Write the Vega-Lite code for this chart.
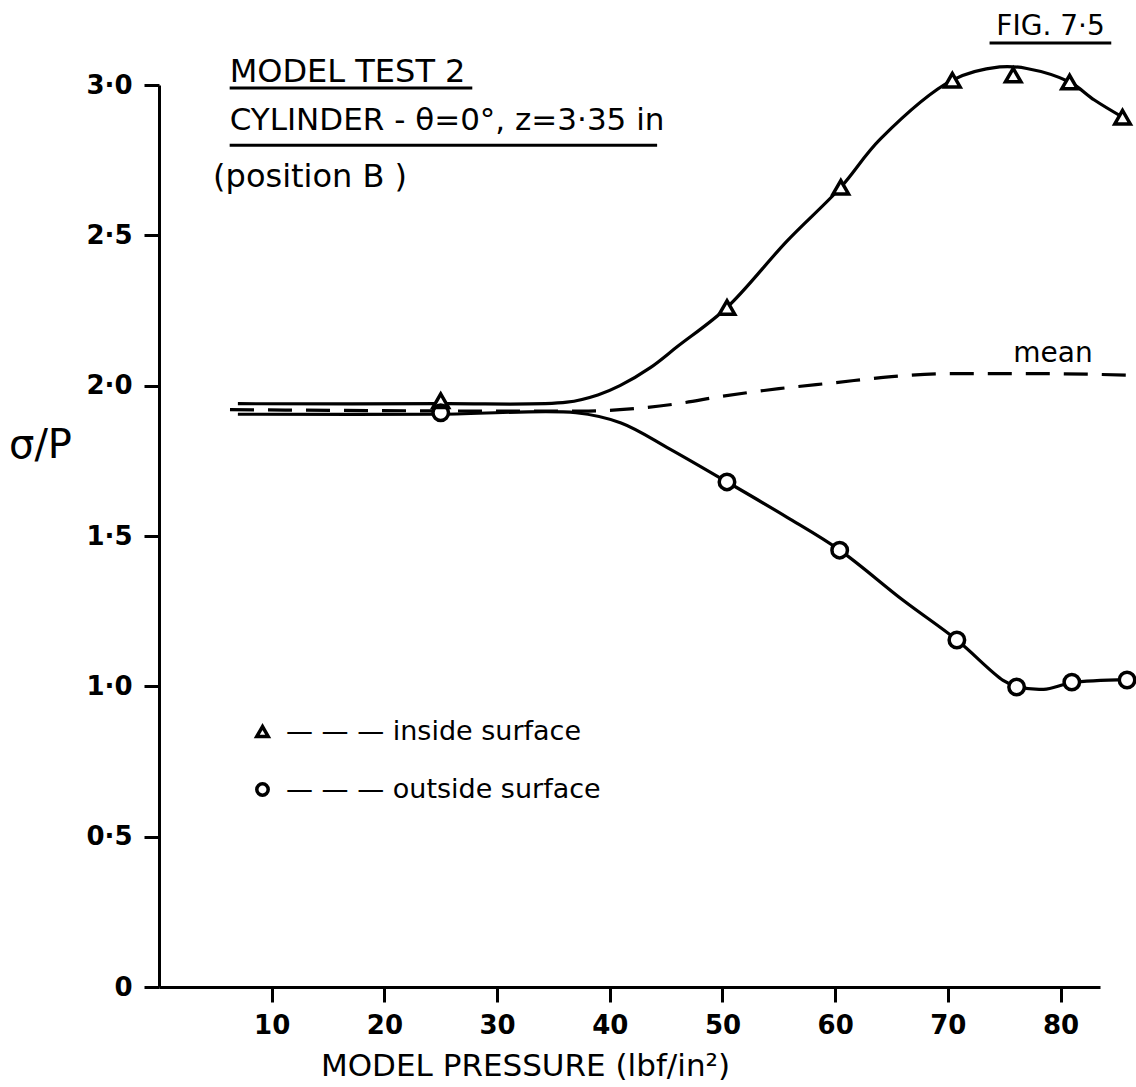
{
  "$schema": "https://vega.github.io/schema/vega-lite/v6.json",
  "autosize": "none",
  "width": 941,
  "height": 902,
  "padding": {"left": 159, "top": 85, "right": 36, "bottom": 100},
  "background": "white",
  "config": {
    "view": {"stroke": null},
    "font": "DejaVu Sans",
    "axis": {
      "domainColor": "black", "domainWidth": 3, "tickColor": "black", "tickWidth": 3, "tickSize": 15,
      "grid": false, "labelColor": "black", "labelFont": "DejaVu Sans", "labelFontWeight": "bold", "labelFontSize": 26,
      "titleColor": "black", "titleFont": "DejaVu Sans", "titleFontWeight": "normal"
    },
    "legend": {"labelColor": "black"}
  },
  "datasets": {
    "curves": [
      {"pressure": 7, "ratio": 1.94, "curve": "inside surface"},
      {"pressure": 25, "ratio": 1.94, "curve": "inside surface"},
      {"pressure": 36.2, "ratio": 1.945, "curve": "inside surface"},
      {"pressure": 39, "ratio": 1.97, "curve": "inside surface"},
      {"pressure": 40.9, "ratio": 2.0, "curve": "inside surface"},
      {"pressure": 43.6, "ratio": 2.06, "curve": "inside surface"},
      {"pressure": 46, "ratio": 2.13, "curve": "inside surface"},
      {"pressure": 50.4, "ratio": 2.26, "curve": "inside surface"},
      {"pressure": 55.7, "ratio": 2.48, "curve": "inside surface"},
      {"pressure": 60.5, "ratio": 2.66, "curve": "inside surface"},
      {"pressure": 64, "ratio": 2.82, "curve": "inside surface"},
      {"pressure": 70.4, "ratio": 3.016, "curve": "inside surface"},
      {"pressure": 74.6, "ratio": 3.06, "curve": "inside surface"},
      {"pressure": 77, "ratio": 3.055, "curve": "inside surface"},
      {"pressure": 80.8, "ratio": 3.01, "curve": "inside surface"},
      {"pressure": 83, "ratio": 2.95, "curve": "inside surface"},
      {"pressure": 85.5, "ratio": 2.893, "curve": "inside surface"},
      {"pressure": 7, "ratio": 1.905, "curve": "outside surface"},
      {"pressure": 25, "ratio": 1.905, "curve": "outside surface"},
      {"pressure": 37, "ratio": 1.91, "curve": "outside surface"},
      {"pressure": 41, "ratio": 1.876, "curve": "outside surface"},
      {"pressure": 45.3, "ratio": 1.79, "curve": "outside surface"},
      {"pressure": 50.4, "ratio": 1.68, "curve": "outside surface"},
      {"pressure": 55.7, "ratio": 1.563, "curve": "outside surface"},
      {"pressure": 60.4, "ratio": 1.453, "curve": "outside surface"},
      {"pressure": 66, "ratio": 1.287, "curve": "outside surface"},
      {"pressure": 70.8, "ratio": 1.154, "curve": "outside surface"},
      {"pressure": 74.9, "ratio": 1.02, "curve": "outside surface"},
      {"pressure": 76.1, "ratio": 1.0, "curve": "outside surface"},
      {"pressure": 78.5, "ratio": 0.99, "curve": "outside surface"},
      {"pressure": 81, "ratio": 1.012, "curve": "outside surface"},
      {"pressure": 85.9, "ratio": 1.022, "curve": "outside surface"}
    ],
    "mean": [
      {"pressure": 6.3, "ratio": 1.92},
      {"pressure": 37.5, "ratio": 1.915},
      {"pressure": 40.9, "ratio": 1.92},
      {"pressure": 46, "ratio": 1.94},
      {"pressure": 50, "ratio": 1.965},
      {"pressure": 55, "ratio": 1.99},
      {"pressure": 60, "ratio": 2.01},
      {"pressure": 65, "ratio": 2.03},
      {"pressure": 70.4, "ratio": 2.04},
      {"pressure": 78, "ratio": 2.04},
      {"pressure": 86, "ratio": 2.035}
    ],
    "points": [
      {"pressure": 25, "ratio": 1.95, "surface": "inside surface"},
      {"pressure": 50.4, "ratio": 2.26, "surface": "inside surface"},
      {"pressure": 60.5, "ratio": 2.66, "surface": "inside surface"},
      {"pressure": 70.4, "ratio": 3.016, "surface": "inside surface"},
      {"pressure": 75.8, "ratio": 3.033, "surface": "inside surface"},
      {"pressure": 80.8, "ratio": 3.01, "surface": "inside surface"},
      {"pressure": 85.5, "ratio": 2.893, "surface": "inside surface"},
      {"pressure": 25, "ratio": 1.91, "surface": "outside surface"},
      {"pressure": 50.4, "ratio": 1.68, "surface": "outside surface"},
      {"pressure": 60.4, "ratio": 1.453, "surface": "outside surface"},
      {"pressure": 70.8, "ratio": 1.154, "surface": "outside surface"},
      {"pressure": 76.1, "ratio": 0.998, "surface": "outside surface"},
      {"pressure": 81, "ratio": 1.014, "surface": "outside surface"},
      {"pressure": 85.9, "ratio": 1.021, "surface": "outside surface"}
    ]
  },
  "layer": [
    {
      "data": {"name": "curves"},
      "mark": {"type": "line", "color": "black", "strokeWidth": 3.2, "interpolate": "catmull-rom"},
      "encoding": {
        "x": {"field": "pressure", "type": "quantitative", "scale": {"domain": [0, 83.5], "nice": false},
          "axis": {"values": [10, 20, 30, 40, 50, 60, 70, 80], "title": "MODEL PRESSURE (lbf/in²)", "titleFontSize": 31,
            "labelPadding": 10, "titleX": 366, "titleY": 88, "titleBaseline": "alphabetic", "titleAnchor": null}},
        "y": {"field": "ratio", "type": "quantitative", "scale": {"domain": [0, 3], "nice": false},
          "axis": {"values": [0, 0.5, 1, 1.5, 2, 2.5, 3], "labelExpr": "datum.value == 0 ? '0' : replace(format(datum.value, '.1f'), '.', '·')",
            "labelPadding": 12, "title": "σ/P", "titleAngle": 0, "titleFontSize": 40, "titleX": -119, "titleY": 360, "titleAlign": "center", "titleBaseline": "middle"}},
        "detail": {"field": "curve", "type": "nominal"}
      }
    },
    {
      "data": {"name": "mean"},
      "mark": {"type": "line", "color": "black", "strokeWidth": 3.2, "strokeDash": [24, 14], "interpolate": "monotone"},
      "encoding": {
        "x": {"field": "pressure", "type": "quantitative"},
        "y": {"field": "ratio", "type": "quantitative"}
      }
    },
    {
      "data": {"name": "points"},
      "transform": [{"filter": "datum.surface == 'inside surface'"}],
      "mark": {"type": "point", "shape": "triangle-up", "filled": true, "color": "white", "opacity": 1, "size": 300},
      "encoding": {
        "x": {"field": "pressure", "type": "quantitative"},
        "y": {"field": "ratio", "type": "quantitative"}
      }
    },
    {
      "data": {"name": "points"},
      "transform": [{"filter": "datum.surface == 'outside surface'"}],
      "mark": {"type": "point", "shape": "circle", "filled": true, "color": "white", "opacity": 1, "size": 260},
      "encoding": {
        "x": {"field": "pressure", "type": "quantitative"},
        "y": {"field": "ratio", "type": "quantitative"}
      }
    },
    {
      "data": {"name": "points"},
      "mark": {"type": "point", "filled": false, "color": "black", "strokeWidth": 3.5, "opacity": 1},
      "encoding": {
        "x": {"field": "pressure", "type": "quantitative"},
        "y": {"field": "ratio", "type": "quantitative"},
        "shape": {"field": "surface", "type": "nominal",
          "scale": {"domain": ["inside surface", "outside surface"], "range": ["triangle-up", "circle"]},
          "legend": {"orient": "none", "legendX": 90, "legendY": 633, "title": null, "padding": 0,
            "labelFont": "DejaVu Sans", "labelFontSize": 27, "labelColor": "black", "labelOffset": 10, "labelLimit": 0,
            "rowPadding": 30, "symbolStrokeWidth": 3.5, "symbolSize": 130,
            "labelExpr": "'— — — ' + datum.label"}},
        "size": {"value": 240}
      }
    },
    {
      "data": {"values": [{"note": "MODEL TEST 2"}]},
      "mark": {"type": "text", "align": "left", "baseline": "alphabetic", "fontSize": 32, "color": "black"},
      "encoding": {"x": {"datum": 6.27, "type": "quantitative"}, "y": {"datum": 3.01, "type": "quantitative"}, "text": {"field": "note"}}
    },
    {
      "data": {"values": [{"note": "CYLINDER - θ=0°, z=3·35 in"}]},
      "mark": {"type": "text", "align": "left", "baseline": "alphabetic", "fontSize": 31, "color": "black"},
      "encoding": {"x": {"datum": 6.27, "type": "quantitative"}, "y": {"datum": 2.85, "type": "quantitative"}, "text": {"field": "note"}}
    },
    {
      "data": {"values": [{"note": "(position B )"}]},
      "mark": {"type": "text", "align": "left", "baseline": "alphabetic", "fontSize": 32, "color": "black"},
      "encoding": {"x": {"datum": 4.8, "type": "quantitative"}, "y": {"datum": 2.66, "type": "quantitative"}, "text": {"field": "note"}}
    },
    {
      "data": {"values": [{"note": "FIG. 7·5"}]},
      "mark": {"type": "text", "align": "left", "baseline": "alphabetic", "fontSize": 28, "color": "black"},
      "encoding": {"x": {"datum": 74.3, "type": "quantitative"}, "y": {"datum": 3.166, "type": "quantitative"}, "text": {"field": "note"}}
    },
    {
      "data": {"values": [{"note": "mean"}]},
      "mark": {"type": "text", "align": "left", "baseline": "alphabetic", "fontSize": 28, "color": "black"},
      "encoding": {"x": {"datum": 75.8, "type": "quantitative"}, "y": {"datum": 2.08, "type": "quantitative"}, "text": {"field": "note"}}
    },
    {
      "data": {"values": [{"from": 6.27, "to": 27.8, "level": 2.99}, {"from": 6.27, "to": 44.2, "level": 2.8}, {"from": 73.7, "to": 84.5, "level": 3.14}]},
      "mark": {"type": "rule", "color": "black", "strokeWidth": 3},
      "encoding": {"x": {"field": "from", "type": "quantitative"}, "x2": {"field": "to"}, "y": {"field": "level", "type": "quantitative"}}
    }
  ]
}
